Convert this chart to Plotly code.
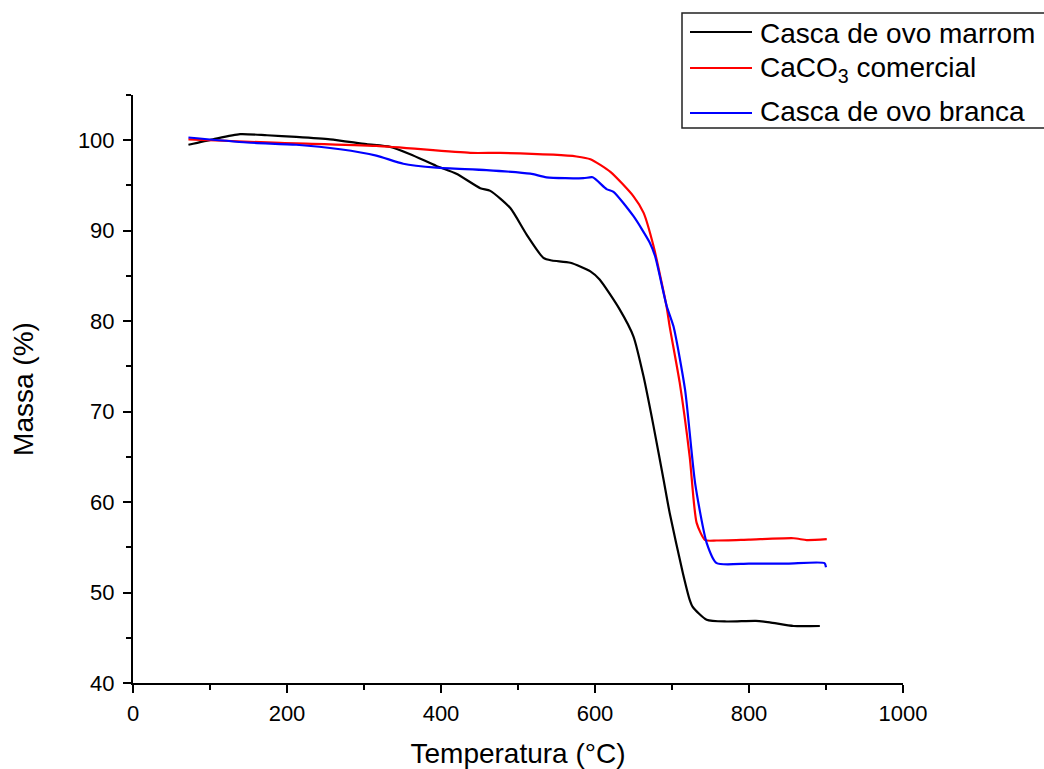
import plotly.graph_objects as go

# ---- data ----
temp_marrom = [72, 104, 139, 174, 212, 256, 303, 334, 360, 394, 420, 451, 464, 490, 511, 533, 544, 568,
               594, 606, 632, 650, 663, 676, 689, 697, 714, 723, 727, 745, 771, 809, 827, 858, 892]
massa_marrom = [99.5, 100.1, 100.67, 100.55, 100.37, 100.1, 99.56, 99.26, 98.45, 97.16, 96.3, 94.7, 94.4,
                92.5, 89.6, 87.0, 86.7, 86.45, 85.5, 84.6, 81.3, 78.3, 73.9, 68.4, 62.5, 58.8, 52.2, 49.2,
                48.4, 47.0, 46.8, 46.86, 46.7, 46.3, 46.3]

temp_caco3 = [72, 191, 316, 438, 477, 546, 576, 594, 620, 650, 663, 676, 693, 697, 710, 723, 732, 743, 758,
              800, 858, 875, 901]
massa_caco3 = [100.1, 99.7, 99.37, 98.6, 98.6, 98.4, 98.2, 97.9, 96.5, 93.8, 92.0, 88.3, 81.6, 79.4, 73.2,
               65.0, 57.7, 55.8, 55.75, 55.85, 56.0, 55.8, 55.9]

temp_branca = [72, 148, 212, 269, 316, 351, 394, 459, 516, 537, 585, 597, 615, 624, 650, 671, 678, 693,
               702, 717, 730, 745, 758, 800, 850, 898, 900]
massa_branca = [100.3, 99.75, 99.5, 99.0, 98.3, 97.4, 96.97, 96.7, 96.3, 95.9, 95.8, 95.9, 94.6, 94.3,
                91.6, 88.7, 87.2, 81.7, 79.4, 72.4, 62.1, 55.5, 53.25, 53.2, 53.2, 53.25, 52.8]

series_names = ["Casca de ovo marrom", "CaCO<sub>3</sub> comercial", "Casca de ovo branca"]
series_colors = ["#000000", "#ff0000", "#0000ff"]

x_ticks = [0, 200, 400, 600, 800, 1000]
y_ticks = [40, 50, 60, 70, 80, 90, 100]

FONT = "Liberation Sans, Arial, sans-serif"

fig = go.Figure()
for (xs, ys), name, col in zip([(temp_marrom, massa_marrom), (temp_caco3, massa_caco3),
                                (temp_branca, massa_branca)], series_names, series_colors):
    fig.add_trace(go.Scatter(x=xs, y=ys, mode="lines", name=name,
                             line=dict(color=col, width=2.2, shape="spline", smoothing=0.6),
                             showlegend=False))

axis_common = dict(showgrid=False, zeroline=False, showline=True, linecolor="black", linewidth=2,
                   ticks="outside", ticklen=8, tickwidth=2, tickcolor="black",
                   tickfont=dict(family=FONT, size=22, color="black"), mirror=False)

fig.update_xaxes(range=[0, 1000], tickvals=x_ticks, ticklabelstandoff=2,
                 minor=dict(dtick=100, ticks="outside", ticklen=5, tickwidth=2, tickcolor="black"),
                 title=dict(text="Temperatura (°C)", font=dict(family=FONT, size=28, color="black"),
                            standoff=18),
                 **axis_common)
fig.update_yaxes(range=[40, 105], tickvals=y_ticks, ticklabelstandoff=4,
                 minor=dict(dtick=5, ticks="outside", ticklen=5, tickwidth=2, tickcolor="black"),
                 title=dict(text="Massa (%)", font=dict(family=FONT, size=28, color="black"),
                            standoff=36),
                 **axis_common)

# ---- manual legend (paper coordinates) ----
def px2x(px):
    return (px - 133) / 770.0

def py2y(py):
    return (683 - py) / 588.0

shapes = [dict(type="rect", xref="paper", yref="paper", x0=px2x(682), x1=px2x(1060),
               y0=py2y(128), y1=py2y(13), line=dict(color="#222222", width=1.5), fillcolor="white",
               layer="above")]
annotations = []
rows_py = [32, 68, 113]
text_py = [33, 70, 112]
for name, col, rpy, tpy in zip(series_names, series_colors, rows_py, text_py):
    shapes.append(dict(type="line", xref="paper", yref="paper", x0=px2x(690), x1=px2x(752),
                       y0=py2y(rpy), y1=py2y(rpy), line=dict(color=col, width=2.2), layer="above"))
    annotations.append(dict(xref="paper", yref="paper", x=px2x(758), y=py2y(tpy), text=name,
                            showarrow=False, xanchor="left", yanchor="middle",
                            font=dict(family=FONT, size=28, color="black")))

fig.update_layout(width=1044, height=769, margin=dict(l=133, r=141, t=95, b=86, autoexpand=False),
                  paper_bgcolor="white", plot_bgcolor="white", showlegend=False,
                  shapes=shapes, annotations=annotations, font=dict(family=FONT))

fig.write_html("out.html")
